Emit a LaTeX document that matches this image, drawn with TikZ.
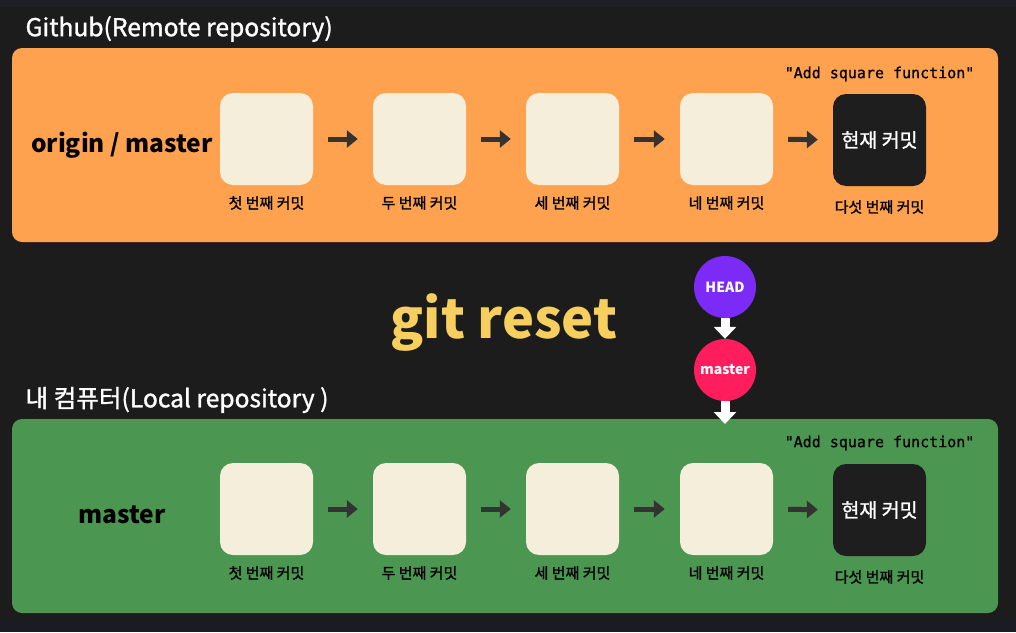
\documentclass[tikz,border=0pt]{standalone}
\usepackage{fontspec}
\setmainfont{Noto Sans CJK KR}
\newfontfamily\medfont[FakeBold=1.2]{Noto Sans CJK KR}
\newfontfamily\monofont[FakeBold=0.8]{DejaVu Sans Mono}
\usetikzlibrary{arrows.meta,calc}
\definecolor{bg}{HTML}{1C1C1C}
\definecolor{topstrip}{HTML}{1E1F27}
\definecolor{bottomstrip}{HTML}{1A1B25}
\definecolor{orangebox}{HTML}{FFA24F}
\definecolor{greenbox}{HTML}{4B9651}
\definecolor{cream}{HTML}{F4EEDB}
\definecolor{blackbox}{HTML}{1E1E1E}
\definecolor{arrowdark}{HTML}{333333}
\definecolor{gityellow}{HTML}{F6CF5F}
\definecolor{headpurple}{HTML}{7B2BF5}
\definecolor{masterpink}{HTML}{FF1D5E}
\tikzset{
  repobox/.style={rounded corners=10pt, minimum width=986pt, minimum height=194pt, inner sep=0pt},
  commitbox/.style={fill=cream, rounded corners=13pt, minimum width=93pt, minimum height=92pt, inner sep=0pt},
  curbox/.style={commitbox, fill=blackbox, text=white, font=\medfont\fontsize{19.5}{22}\selectfont},
  commitlabel/.style={font=\medfont\fontsize{15}{17}\selectfont, text=black},
  msg/.style={font=\monofont\fontsize{15}{17}\selectfont, text=black},
  title/.style={font=\medfont\fontsize{24.6}{28}\selectfont, text=white, anchor=west},
  branch/.style={font=\bfseries\fontsize{24.5}{28}\selectfont, text=black},
  arr/.style={draw=arrowdark, line width=5pt, -{Triangle[length=11pt,width=17pt]}, shorten <=15pt, shorten >=15pt},
  warr/.style={draw=white, line width=9pt, -{Triangle[length=12pt,width=22pt]}},
  ref/.style={circle, minimum size=62pt, inner sep=0pt, text=white, font=\bfseries\fontsize{14}{16}\selectfont}
}
\begin{document}
\begin{tikzpicture}[x=1pt,y=-1pt]
\useasboundingbox (0,0) rectangle (1016,632);
\fill[bg] (0,0) rectangle (1016,632);
\fill[topstrip] (0,0) rectangle (1016,7);
\fill[bottomstrip] (0,621) rectangle (1016,632);

% titles
\node[title] (t1) at (22,29) {Github(Remote repository)};
\node[title] (t2) at (22,400) {내 컴퓨터(Local repository )};

% repo boxes
\node[repobox, fill=orangebox] (remote) at (505,145) {};
\node[repobox, fill=greenbox] (local) at (505,516) {};

% remote commits
\node[branch] (om) at (122,145) {origin / master};
\node[commitbox] (r1) at (266.5,139) {};
\node[commitbox] (r2) at (419.5,139) {};
\node[commitbox] (r3) at (572.5,139) {};
\node[commitbox] (r4) at (726.5,139) {};
\node[curbox] (r5) at (879.5,140) {현재 커밋};
\node[commitlabel] (rl1) at (266.5,203) {첫 번째 커밋};
\node[commitlabel] (rl2) at (419.5,203) {두 번째 커밋};
\node[commitlabel] (rl3) at (572.5,203) {세 번째 커밋};
\node[commitlabel] (rl4) at (726.5,203) {네 번째 커밋};
\node[commitlabel] (rl5) at (879.5,207) {다섯 번째 커밋};
\node[msg] (rm) at (879.5,74) {"Add square function"};
\draw[arr] (r1) -- (r2);
\draw[arr] (r2) -- (r3);
\draw[arr] (r3) -- (r4);
\draw[arr] (r4) -- (r5);

% local commits
\node[branch] (lm) at (122,515) {master};
\node[commitbox] (l1) at (266.5,509) {};
\node[commitbox] (l2) at (419.5,509) {};
\node[commitbox] (l3) at (572.5,509) {};
\node[commitbox] (l4) at (726.5,509) {};
\node[curbox] (l5) at (879.5,510) {현재 커밋};
\node[commitlabel] (ll1) at (266.5,573) {첫 번째 커밋};
\node[commitlabel] (ll2) at (419.5,573) {두 번째 커밋};
\node[commitlabel] (ll3) at (572.5,573) {세 번째 커밋};
\node[commitlabel] (ll4) at (726.5,573) {네 번째 커밋};
\node[commitlabel] (ll5) at (879.5,577) {다섯 번째 커밋};
\node[msg] (lmsg) at (879.5,443) {"Add square function"};
\draw[arr] (l1) -- (l2);
\draw[arr] (l2) -- (l3);
\draw[arr] (l3) -- (l4);
\draw[arr] (l4) -- (l5);

% git reset
\node[font=\bfseries\fontsize{54}{60}\selectfont, text=gityellow] (gr) at (504,323) {git reset};

% HEAD and master
\node[ref, fill=headpurple] (head) at (725,287) {HEAD};
\node[ref, fill=masterpink] (mref) at (725,370) {master};
\coordinate (target) at (725,424);
\draw[warr] (head) -- (mref);
\draw[warr] (mref) -- (target);
\end{tikzpicture}
\end{document}
